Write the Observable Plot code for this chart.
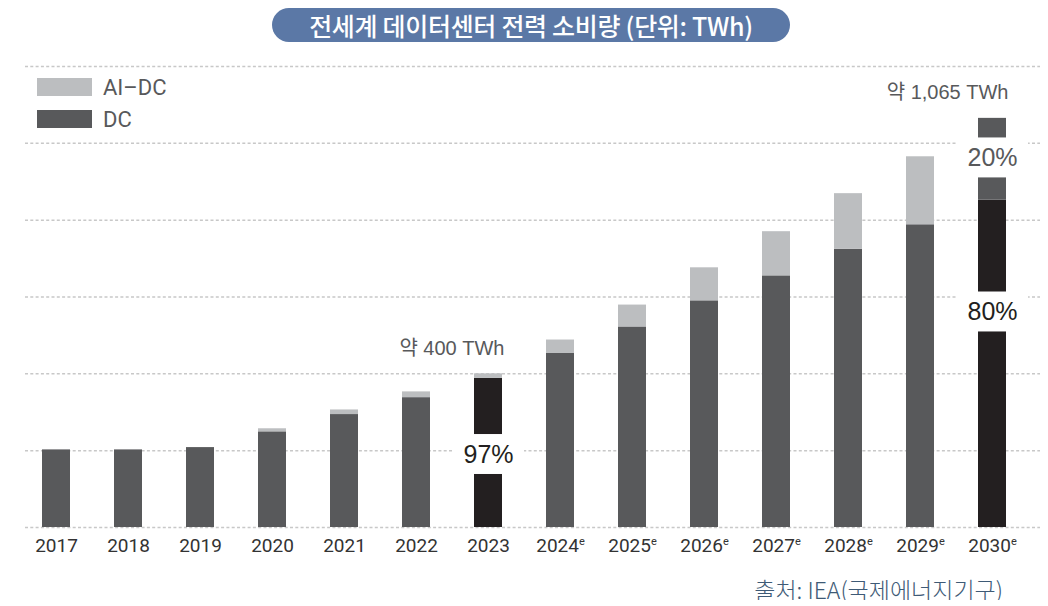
<!DOCTYPE html>
<html>
<head>
<meta charset="utf-8">
<script src="https://cdn.jsdelivr.net/npm/d3@7"></script>
<script src="https://cdn.jsdelivr.net/npm/@observablehq/plot@0.6"></script>
<style>
  html, body { margin: 0; padding: 0; background: #fff; }
  #wrap { position: relative; width: 1048px; height: 600px; }
  #titlebar { height: 56px; position: relative; }
  #title {
    position: absolute; left: 272px; top: 8px; width: 518px; height: 34px;
    border-radius: 17px; background: #5b78a6; color: #fff;
    font: 500 25px "Noto Sans CJK KR", sans-serif;
    display: flex; align-items: center; justify-content: center; letter-spacing: -0.3px;
  }
  #chart svg { display: block; }
  #legend { position: absolute; left: 37px; top: 78px; }
  .item { display: flex; align-items: center; height: 18px; margin-bottom: 14px; }
  .sw { width: 55px; height: 18px; margin-right: 11px; }
  .lab { font: 22px Roboto, sans-serif; color: #58595b; }
  #caption {
    position: absolute; right: 45px; top: 572px; line-height: 26px;
    font: 300 23px "Noto Sans CJK KR", sans-serif; color: #3e5a76; letter-spacing: 0px; white-space: nowrap;
  }
</style>
</head>
<body>
<div id="wrap">
  <div id="titlebar"><div id="title">전세계 데이터센터 전력 소비량 (단위: TWh)</div></div>
  <div id="chart"></div>
  <div id="legend"></div>
  <div id="caption">출처: IEA(국제에너지기구)</div>
</div>
<script>
// ---- data ----
const years = ["2017","2018","2019","2020","2021","2022","2023","2024","2025","2026","2027","2028","2029","2030"];
const firstEstimateYear = "2024";
const dcValues = [202, 202, 208, 249, 294, 338, 388, 453, 522, 590, 655, 724, 788, 852];
const aiValues = [0, 0, 0, 8, 12, 15, 12, 35, 57, 86, 115, 145, 177, 213];
const seriesNames = ["DC", "AI-DC"];
const legendNames = ["AI–DC", "DC"];
const yTicks = [0, 200, 400, 600, 800, 1000, 1200];
const totalYears = ["2023", "2030"];
const totalTexts = ["약 400 TWh", "약 1,065 TWh"];
const totalValues = [400, 1065];
const shareYears = ["2023", "2030", "2030"];
const shareSeries = ["DC", "DC", "AI-DC"];
const shareTexts = ["97%", "80%", "20%"];
const shareAt = [190, 561, 962];

// ---- styles ----
const colorDC = "#58595b", colorAI = "#bcbec0", colorDark = "#231f20";
function barColor(year, series) {
  if (year === "2030") return series === "DC" ? colorDark : colorDC;
  if (year === "2023") return series === "DC" ? colorDark : colorAI;
  return series === "DC" ? colorDC : colorAI;
}

const rows = [];
years.forEach((y, i) => {
  rows.push({year: y, series: "DC", value: dcValues[i], color: barColor(y, "DC")});
  rows.push({year: y, series: "AI-DC", value: aiValues[i], color: barColor(y, "AI-DC")});
});
const totals = totalYears.map((y, i) => ({year: y, total: totalValues[i], text: totalTexts[i]}));
const shares = shareYears.map((y, i) => ({year: y, series: shareSeries[i], text: shareTexts[i], at: shareAt[i]}));
const boxHalf = 52;

const plot = Plot.plot({
  width: 1048,
  height: 505,
  marginLeft: 25,
  marginRight: 8,
  marginTop: 10,
  marginBottom: 34,
  style: {fontFamily: "Roboto, sans-serif", fontSize: "18px", color: "#333", background: "white", overflow: "visible"},
  x: {type: "band", domain: years, paddingInner: 0.611, paddingOuter: 0.354, align: 0.333, axis: null, label: null},
  y: {domain: [0, 1200], axis: null},
  color: {type: "identity"},
  marks: [
    Plot.ruleY(yTicks, {stroke: "#c8c8c8", strokeWidth: 1.5, strokeDasharray: "3,2.3"}),
    Plot.barY(rows, {x: "year", y: "value", z: "series", fill: "color", order: seriesNames}),
    Plot.barY(shares, {x: "year", y1: d => d.at - boxHalf, y2: d => d.at + boxHalf, fill: "white", insetLeft: -22, insetRight: -22}),
    Plot.text(shares, {x: "year", y: "at", text: "text", fontSize: 25, fontFamily: "'Liberation Sans', Arial, sans-serif",
      fill: d => d.series === "DC" ? colorDark : colorDC}),
    Plot.text(totals, {x: "year", y: "total", text: "text", textAnchor: "end", lineAnchor: "bottom", dx: 16, dy: -19,
      fontSize: 20, fontFamily: "'Liberation Sans', 'Noto Sans CJK KR', sans-serif", fill: colorDC}),
    Plot.axisX({tickSize: 0, tickPadding: 11, fontSize: 19, label: null})
  ]
});
document.getElementById("chart").appendChild(plot);

// superscript "e" for estimated years
plot.querySelectorAll('[aria-label="x-axis tick label"] text').forEach(t => {
  const label = t.textContent.trim();
  if (label >= firstEstimateYear) {
    const ts = document.createElementNS("http://www.w3.org/2000/svg", "tspan");
    ts.setAttribute("font-size", "11");
    ts.setAttribute("dy", "-7");
    ts.textContent = "e";
    t.appendChild(ts);
  }
});

// legend
const legend = document.getElementById("legend");
[[legendNames[0], colorAI], [legendNames[1], colorDC]].forEach(([name, c]) => {
  const it = document.createElement("div");
  it.className = "item";
  it.innerHTML = `<div class="sw" style="background:${c}"></div><div class="lab">${name}</div>`;
  legend.appendChild(it);
});
</script>
</body>
</html>
